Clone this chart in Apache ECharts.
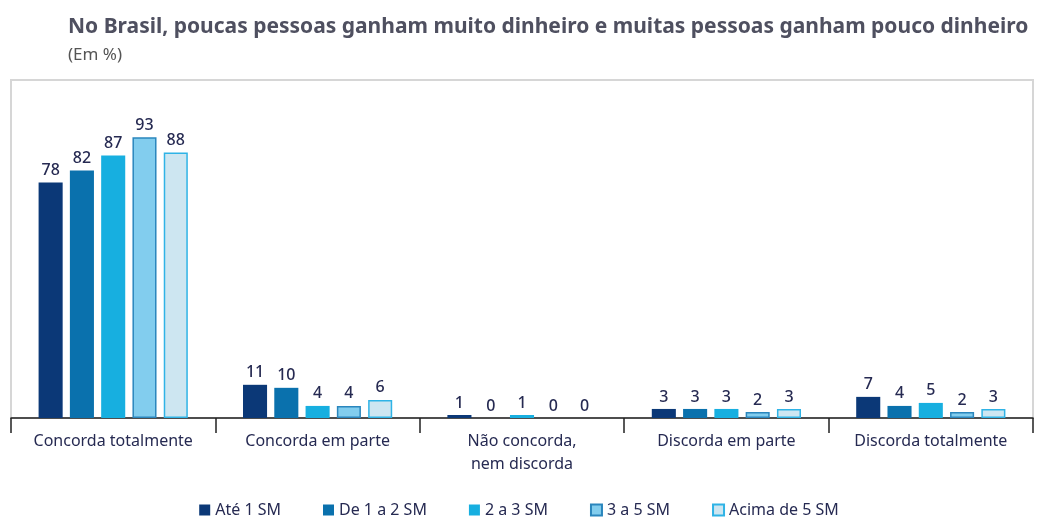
<!DOCTYPE html>
<html>
<head>
<meta charset="utf-8">
<script src="https://cdn.jsdelivr.net/npm/echarts@6/dist/echarts.min.js"></script>
<style>
  html, body { margin: 0; padding: 0; background: #fff; }
  #main { width: 1038px; height: 523px; }
</style>
</head>
<body>
<div id="main"></div>
<script>
// categorias e séries
var categorias = ['Concorda totalmente', 'Concorda em parte', 'Não concorda,\nnem discorda', 'Discorda em parte', 'Discorda totalmente'];
var faixas = ['Até 1 SM', 'De 1 a 2 SM', '2 a 3 SM', '3 a 5 SM', 'Acima de 5 SM'];
var ate1 = [78, 11, 1, 3, 7];
var de1a2 = [82, 10, 0, 3, 4];
var de2a3 = [87, 4, 1, 3, 5];
var de3a5 = [93, 4, 0, 2, 2];
var acima5 = [88, 6, 0, 3, 3];

var cores = ['#0b3877', '#0a71ad', '#17afe0', '#82cdee', '#cde6f1'];
var bordas = ['#0b3877', '#0a71ad', '#17afe0', '#2a86bd', '#2fb3e6'];
var valores = [ate1, de1a2, de2a3, de3a5, acima5];

var myChart = echarts.init(document.getElementById('main'));

var series = faixas.map(function(nome, i) {
    return {
        name: nome,
        type: 'bar',
        barGap: '30%',
        barCategoryGap: '27%',
        itemStyle: {
            color: cores[i],
            borderColor: bordas[i],
            borderWidth: i >= 3 ? 1.5 : 0
        },
        label: {
            show: true,
            position: 'top',
            distance: 4,
            color: '#262a52',
            fontSize: 16,
            fontWeight: 500,
            fontFamily: 'Noto Sans'
        },
        data: valores[i].map(function(v) {
            // sem borda quando o valor é zero
            return v === 0 ? { value: v, itemStyle: { borderWidth: 0 } } : v;
        })
    };
});

var option = {
    backgroundColor: '#fff',
    animation: false,
    title: {
        text: 'No Brasil, poucas pessoas ganham muito dinheiro e muitas pessoas ganham pouco dinheiro',
        subtext: '(Em %)',
        left: 63,
        top: 12,
        itemGap: 9,
        textStyle: {
            fontFamily: 'Noto Sans',
            fontSize: 21,
            fontWeight: 'bold',
            color: '#4f5060'
        },
        subtextStyle: {
            fontFamily: 'Noto Sans',
            fontSize: 17,
            color: '#555'
        }
    },
    legend: {
        data: faixas,
        bottom: 0,
        left: 'center',
        icon: 'rect',
        itemWidth: 11,
        itemHeight: 11,
        itemGap: 42,
        textStyle: {
            fontFamily: 'Noto Sans',
            fontSize: 16,
            color: '#262a52'
        }
    },
    grid: {
        left: 11,
        right: 5,
        top: 80,
        bottom: 105,
        show: true,
        borderColor: '#d6d6d6',
        borderWidth: 2,
        containLabel: false
    },
    xAxis: {
        type: 'category',
        data: categorias,
        axisLine: { lineStyle: { color: '#222', width: 1.5 } },
        axisTick: { show: true, interval: 0, length: 15, lineStyle: { color: '#222', width: 1.5 } },
        axisLabel: {
            interval: 0,
            margin: 12,
            fontFamily: 'Noto Sans',
            fontSize: 16,
            color: '#262a52',
            lineHeight: 23,
            align: 'center'
        }
    },
    yAxis: {
        type: 'value',
        min: 0,
        max: 112,
        show: false,
        splitLine: { show: false }
    },
    series: series
};

myChart.setOption(option);
</script>
</body>
</html>
